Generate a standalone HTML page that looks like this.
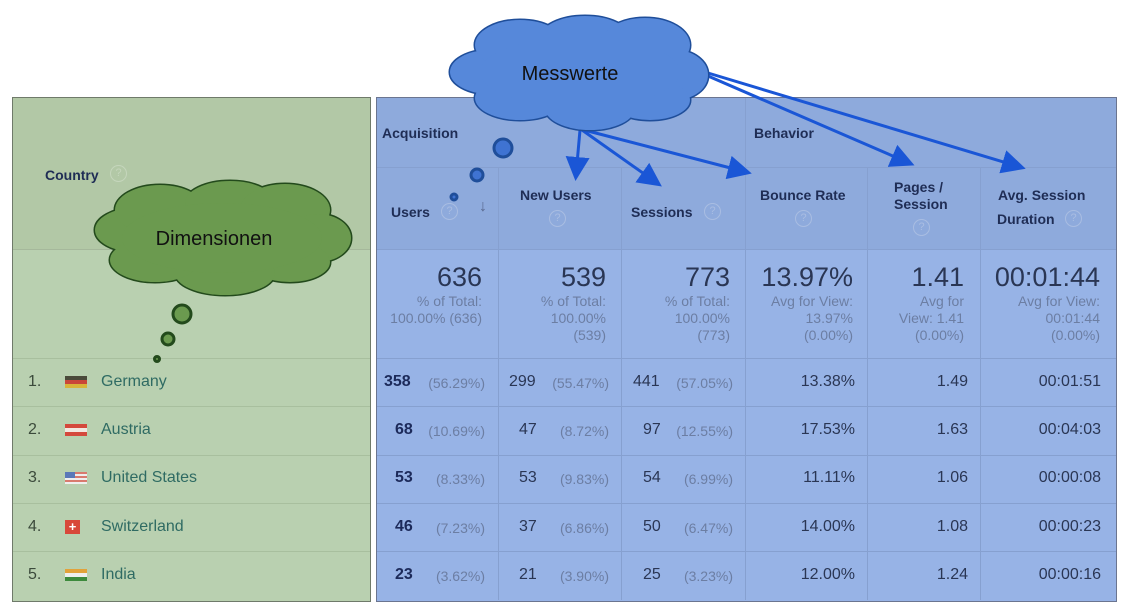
<!DOCTYPE html>
<html><head><meta charset="utf-8">
<style>
html,body{margin:0;padding:0;background:#fff;}
#c{position:relative;width:1124px;height:608px;overflow:hidden;font-family:"Liberation Sans",sans-serif;}
.a{position:absolute;white-space:nowrap;}
.h{font-weight:bold;font-size:14px;color:#1f2d55;}
.q{position:absolute;width:15px;height:15px;border-radius:50%;border:1.5px solid #a9bde2;color:#a9bde2;font-size:11px;line-height:15px;text-align:center;box-sizing:content-box;}
.big{font-size:27px;color:#2a3654;}
.sub{font-size:14px;color:#6c7ea3;line-height:17px;text-align:right;}
.v{font-size:16px;color:#2a3654;}
.b{font-weight:bold;color:#1c2a5a;}
.p{font-size:14px;color:#6c7ea3;}
.g{font-size:16px;color:#2f6b63;}
.n{font-size:16px;color:#3b4a3b;}
</style></head><body><div id="c">
<!-- left green panel -->
<div class="a" style="left:12px;top:97px;width:357px;height:503px;background:#b9d0b0;border:1px solid #6f7a6a;"></div>
<div class="a" style="left:13px;top:98px;width:357px;height:151px;background:#b2c8a6;border-bottom:1px solid #a5b89b;"></div>
<!-- right blue panel -->
<div class="a" style="left:376px;top:97px;width:739px;height:503px;background:#97b3e6;border:1px solid #6b7590;"></div>
<div class="a" style="left:377px;top:98px;width:739px;height:151px;background:#8eaadc;"></div>
<!-- grid lines -->
<svg class="a" style="left:0;top:0" width="1124" height="608">
<g stroke="#86a0d0" stroke-width="1">
<line x1="377" y1="167.5" x2="1116" y2="167.5"/>
<line x1="377" y1="249.5" x2="1116" y2="249.5"/>
<line x1="377" y1="358.5" x2="1116" y2="358.5"/>
<line x1="377" y1="406.5" x2="1116" y2="406.5"/>
<line x1="377" y1="455.5" x2="1116" y2="455.5"/>
<line x1="377" y1="503.5" x2="1116" y2="503.5"/>
<line x1="377" y1="551.5" x2="1116" y2="551.5"/>
<line x1="498.5" y1="167" x2="498.5" y2="600"/>
<line x1="621.5" y1="167" x2="621.5" y2="600"/>
<line x1="745.5" y1="98" x2="745.5" y2="600"/>
<line x1="867.5" y1="167" x2="867.5" y2="600"/>
<line x1="980.5" y1="167" x2="980.5" y2="600"/>
</g>
<g stroke="#a8bf9e" stroke-width="1">
<line x1="13" y1="358.5" x2="370" y2="358.5"/>
<line x1="13" y1="406.5" x2="370" y2="406.5"/>
<line x1="13" y1="455.5" x2="370" y2="455.5"/>
<line x1="13" y1="503.5" x2="370" y2="503.5"/>
<line x1="13" y1="551.5" x2="370" y2="551.5"/>
</g>
</svg>
<!-- headers -->
<div class="a h" style="left:45px;top:167px;">Country</div><div class="q" style="left:110px;top:165px;border-color:#c5d6bc;color:#c5d6bc;">?</div>
<div class="a h" style="left:382px;top:125px;">Acquisition</div>
<div class="a h" style="left:754px;top:125px;">Behavior</div>
<div class="a h" style="left:391px;top:204px;">Users</div><div class="q" style="left:441px;top:203px;">?</div>
<div class="a" style="left:479px;top:198px;font-size:16px;color:#5a6a90;">&#8595;</div>
<div class="a h" style="left:520px;top:187px;">New Users</div><div class="q" style="left:549px;top:210px;">?</div>
<div class="a h" style="left:631px;top:204px;">Sessions</div><div class="q" style="left:704px;top:203px;">?</div>
<div class="a h" style="left:760px;top:187px;">Bounce Rate</div><div class="q" style="left:795px;top:210px;">?</div>
<div class="a h" style="left:894px;top:179px;line-height:17px;">Pages /<br>Session</div><div class="q" style="left:913px;top:219px;">?</div>
<div class="a h" style="left:998px;top:187px;">Avg. Session</div>
<div class="a h" style="left:997px;top:211px;">Duration</div><div class="q" style="left:1065px;top:210px;">?</div>
<!-- totals -->
<div class="a big" style="right:642px;top:262px;">636</div>
<div class="a sub" style="right:642px;top:293px;">% of Total:<br>100.00% (636)</div>
<div class="a big" style="right:518px;top:262px;">539</div>
<div class="a sub" style="right:518px;top:293px;">% of Total:<br>100.00%<br>(539)</div>
<div class="a big" style="right:394px;top:262px;">773</div>
<div class="a sub" style="right:394px;top:293px;">% of Total:<br>100.00%<br>(773)</div>
<div class="a big" style="right:271px;top:262px;">13.97%</div>
<div class="a sub" style="right:271px;top:293px;">Avg for View:<br>13.97%<br>(0.00%)</div>
<div class="a big" style="right:160px;top:262px;">1.41</div>
<div class="a sub" style="right:160px;top:293px;">Avg for<br>View: 1.41<br>(0.00%)</div>
<div class="a big" style="right:24px;top:262px;">00:01:44</div>
<div class="a sub" style="right:24px;top:293px;">Avg for View:<br>00:01:44<br>(0.00%)</div>
<!-- rows -->
<div id="rows"></div>
<div class="a n" style="left:28px;top:373px;">1.</div><div class="a" style="left:65px;top:376px;width:22px;height:12px;background:linear-gradient(#4a4a3a 33%,#c9463a 33% 66%,#d8b43a 66%);"></div><div class="a g" style="left:101px;top:373px;">Germany</div>
<div class="a n" style="left:28px;top:421px;">2.</div><div class="a" style="left:65px;top:424px;width:22px;height:12px;background:linear-gradient(#d4483c 33%,#f2e6e0 33% 66%,#d4483c 66%);"></div><div class="a g" style="left:101px;top:421px;">Austria</div>
<div class="a n" style="left:28px;top:469px;">3.</div><div class="a" style="left:65px;top:472px;width:22px;height:12px;background:repeating-linear-gradient(#d97a6e 0 2px,#eee 2px 4px);"></div><div class="a" style="left:65px;top:472px;width:10px;height:6px;background:#5a78b8;"></div><div class="a g" style="left:101px;top:469px;">United States</div>
<div class="a n" style="left:28px;top:518px;">4.</div><div class="a" style="left:65px;top:520px;width:15px;height:14px;background:#d8483a;color:#fff;font-size:13px;line-height:14px;text-align:center;font-weight:bold;">+</div><div class="a g" style="left:101px;top:518px;">Switzerland</div>
<div class="a n" style="left:28px;top:566px;">5.</div><div class="a" style="left:65px;top:569px;width:22px;height:12px;background:linear-gradient(#e2a23a 33%,#eee 33% 66%,#3d8a3c 66%);"></div><div class="a g" style="left:101px;top:566px;">India</div>

<div class="a v" style="top:373px;left:384px;"><span class="b">358</span></div><div class="a p" style="top:375px;right:639px;">(56.29%)</div>
<div class="a v" style="top:421px;left:395px;"><span class="b">68</span></div><div class="a p" style="top:423px;right:639px;">(10.69%)</div>
<div class="a v" style="top:469px;left:395px;"><span class="b">53</span></div><div class="a p" style="top:471px;right:639px;">(8.33%)</div>
<div class="a v" style="top:518px;left:395px;"><span class="b">46</span></div><div class="a p" style="top:520px;right:639px;">(7.23%)</div>
<div class="a v" style="top:566px;left:395px;"><span class="b">23</span></div><div class="a p" style="top:568px;right:639px;">(3.62%)</div>

<div class="a v" style="top:373px;left:509px;">299</div><div class="a p" style="top:375px;right:515px;">(55.47%)</div>
<div class="a v" style="top:421px;left:519px;">47</div><div class="a p" style="top:423px;right:515px;">(8.72%)</div>
<div class="a v" style="top:469px;left:519px;">53</div><div class="a p" style="top:471px;right:515px;">(9.83%)</div>
<div class="a v" style="top:518px;left:519px;">37</div><div class="a p" style="top:520px;right:515px;">(6.86%)</div>
<div class="a v" style="top:566px;left:519px;">21</div><div class="a p" style="top:568px;right:515px;">(3.90%)</div>

<div class="a v" style="top:373px;left:633px;">441</div><div class="a p" style="top:375px;right:391px;">(57.05%)</div>
<div class="a v" style="top:421px;left:643px;">97</div><div class="a p" style="top:423px;right:391px;">(12.55%)</div>
<div class="a v" style="top:469px;left:643px;">54</div><div class="a p" style="top:471px;right:391px;">(6.99%)</div>
<div class="a v" style="top:518px;left:643px;">50</div><div class="a p" style="top:520px;right:391px;">(6.47%)</div>
<div class="a v" style="top:566px;left:643px;">25</div><div class="a p" style="top:568px;right:391px;">(3.23%)</div>

<div class="a v" style="top:373px;right:269px;">13.38%</div><div class="a v" style="top:373px;right:156px;">1.49</div><div class="a v" style="top:373px;right:23px;">00:01:51</div>
<div class="a v" style="top:421px;right:269px;">17.53%</div><div class="a v" style="top:421px;right:156px;">1.63</div><div class="a v" style="top:421px;right:23px;">00:04:03</div>
<div class="a v" style="top:469px;right:269px;">11.11%</div><div class="a v" style="top:469px;right:156px;">1.06</div><div class="a v" style="top:469px;right:23px;">00:00:08</div>
<div class="a v" style="top:518px;right:269px;">14.00%</div><div class="a v" style="top:518px;right:156px;">1.08</div><div class="a v" style="top:518px;right:23px;">00:00:23</div>
<div class="a v" style="top:566px;right:269px;">12.00%</div><div class="a v" style="top:566px;right:156px;">1.24</div><div class="a v" style="top:566px;right:23px;">00:00:16</div>

<!-- clouds & arrows -->
<svg class="a" style="left:0;top:0" width="1124" height="608">
<defs><marker id="m" markerWidth="8" markerHeight="8" refX="6" refY="4" orient="auto" markerUnits="strokeWidth"><path d="M0,0 L8,4 L0,8 z" fill="#1a56d6"/></marker></defs>
<g stroke="#1a56d6" stroke-width="3" fill="none" marker-end="url(#m)">
<line x1="580" y1="130" x2="576" y2="175"/>
<line x1="582" y1="130" x2="657" y2="183"/>
<line x1="584" y1="130" x2="746" y2="172"/>
<line x1="708" y1="76" x2="909" y2="163"/>
<line x1="708" y1="73" x2="1020" y2="167"/>
</g>
<!-- blue cloud -->
<g stroke="#1f4e9a" stroke-width="3">
<ellipse cx="490" cy="72" rx="40" ry="22"/><ellipse cx="520" cy="45" rx="45" ry="25"/><ellipse cx="585" cy="38" rx="45" ry="22"/><ellipse cx="645" cy="45" rx="45" ry="27"/><ellipse cx="675" cy="75" rx="33" ry="25"/><ellipse cx="650" cy="100" rx="40" ry="20"/><ellipse cx="590" cy="108" rx="45" ry="22"/><ellipse cx="520" cy="98" rx="45" ry="22"/>
</g>
<g fill="#5688da">
<ellipse cx="490" cy="72" rx="40" ry="22"/><ellipse cx="520" cy="45" rx="45" ry="25"/><ellipse cx="585" cy="38" rx="45" ry="22"/><ellipse cx="645" cy="45" rx="45" ry="27"/><ellipse cx="675" cy="75" rx="33" ry="25"/><ellipse cx="650" cy="100" rx="40" ry="20"/><ellipse cx="590" cy="108" rx="45" ry="22"/><ellipse cx="520" cy="98" rx="45" ry="22"/><ellipse cx="580" cy="72" rx="100" ry="35"/>
</g>
<g fill="#3f73d2" stroke="#1f4e9a" stroke-width="3">
<circle cx="503" cy="148" r="9"/><circle cx="477" cy="175" r="6"/><circle cx="454" cy="197" r="3"/>
</g>
<text x="570" y="80" font-family="Liberation Sans" font-size="20" text-anchor="middle" fill="#111">Messwerte</text>
<!-- green cloud -->
<g stroke="#234a1c" stroke-width="3">
<ellipse cx="135" cy="230" rx="40" ry="22"/><ellipse cx="160" cy="210" rx="45" ry="25"/><ellipse cx="230" cy="203" rx="45" ry="22"/><ellipse cx="285" cy="210" rx="45" ry="26"/><ellipse cx="318" cy="238" rx="33" ry="24"/><ellipse cx="290" cy="262" rx="40" ry="20"/><ellipse cx="225" cy="273" rx="50" ry="22"/><ellipse cx="155" cy="260" rx="45" ry="22"/>
</g>
<g fill="#6b9a4f">
<ellipse cx="135" cy="230" rx="40" ry="22"/><ellipse cx="160" cy="210" rx="45" ry="25"/><ellipse cx="230" cy="203" rx="45" ry="22"/><ellipse cx="285" cy="210" rx="45" ry="26"/><ellipse cx="318" cy="238" rx="33" ry="24"/><ellipse cx="290" cy="262" rx="40" ry="20"/><ellipse cx="225" cy="273" rx="50" ry="22"/><ellipse cx="155" cy="260" rx="45" ry="22"/><ellipse cx="222" cy="238" rx="100" ry="35"/>
</g>
<g fill="#6b9a4f" stroke="#234a1c" stroke-width="3">
<circle cx="182" cy="314" r="9"/><circle cx="168" cy="339" r="6"/><circle cx="157" cy="359" r="2.5"/>
</g>
<text x="214" y="245" font-family="Liberation Sans" font-size="20" text-anchor="middle" fill="#111">Dimensionen</text>
</svg>
</div></body></html>
